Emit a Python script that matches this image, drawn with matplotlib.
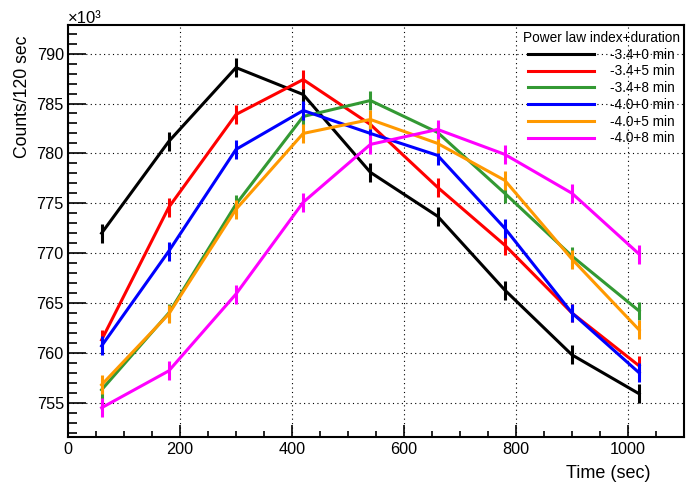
import matplotlib
matplotlib.use("Agg")
import matplotlib.pyplot as plt
from matplotlib.ticker import MultipleLocator

# time bin centres (sec) and counts (x10^3) per 120 sec
times = [60, 180, 300, 420, 540, 660, 780, 900, 1020]

counts_34_0 = [772.0, 781.2, 788.6, 785.9, 778.1, 773.7, 766.3, 759.8, 755.9]
counts_34_5 = [761.3, 774.6, 783.9, 787.4, 782.9, 776.6, 770.8, 764.0, 758.7]
counts_34_8 = [756.3, 764.0, 774.9, 783.7, 785.3, 782.1, 776.0, 769.7, 764.2]
counts_40_0 = [760.7, 770.2, 780.4, 784.3, 782.0, 779.8, 772.5, 764.0, 758.0]
counts_40_5 = [756.8, 763.9, 774.4, 782.0, 783.4, 781.0, 777.3, 769.4, 762.3]
counts_40_8 = [754.5, 758.2, 765.9, 775.1, 780.9, 782.4, 779.9, 776.0, 769.9]

count_err = 0.95

labels = ["-3.4+0 min", "-3.4+5 min", "-3.4+8 min",
          "-4.0+0 min", "-4.0+5 min", "-4.0+8 min"]
colors = ["#000000", "#ff0000", "#339933", "#0000ff", "#ff9900", "#ff00ff"]
series = [counts_34_0, counts_34_5, counts_34_8,
          counts_40_0, counts_40_5, counts_40_8]

plt.rcParams["font.family"] = ["Liberation Sans", "DejaVu Sans"]

W, H = 686, 487
fig = plt.figure(figsize=(W / 100, H / 100), dpi=100)
ax = fig.add_axes([68 / W, 1 - 436.7 / H, (684 - 68) / W, (436.7 - 24.7) / H])

for y, c, lab in zip(series, colors, labels):
    ax.plot(times, y, color=c, lw=2.2, label=lab)
    ax.errorbar(times, y, yerr=count_err, color=c, lw=0, elinewidth=2.2,
                capsize=0, fmt="none")

ax.set_xlim(0, 1100)
ax.set_ylim(751.6, 792.9)

ax.xaxis.set_major_locator(MultipleLocator(200))
ax.xaxis.set_minor_locator(MultipleLocator(50))
ax.yaxis.set_major_locator(MultipleLocator(5))
ax.yaxis.set_minor_locator(MultipleLocator(1))

ax.tick_params(axis="both", which="both", direction="in", top=False, right=False,
               labelsize=11.7, width=1.2)
ax.tick_params(axis="y", which="major", length=13.3, pad=3)
ax.tick_params(axis="y", which="minor", length=6.6)
ax.tick_params(axis="x", which="major", length=9, pad=4)
ax.tick_params(axis="x", which="minor", length=4.5)

for sp in ax.spines.values():
    sp.set_linewidth(1.5)

ax.grid(True, which="major", color="black", linestyle=(0, (1, 3)), lw=0.8)

fig.text(23 / W, 1 - 35 / H, "Counts/120 sec", rotation=90, ha="center",
         va="top", fontsize=12.7)
fig.text(650 / W, 1 - 473 / H, "Time (sec)", ha="right", va="center",
         fontsize=13)
fig.text(68 / W, 1 - 23 / H, "×10³", ha="left", va="baseline", fontsize=12)

leg = ax.legend(title="Power law index+duration", loc="upper right",
                bbox_to_anchor=(680 / W, 1 - 31 / H),
                bbox_transform=fig.transFigure, frameon=False,
                fontsize=9.8, title_fontsize=9.8, handlelength=4.8,
                handletextpad=1.2, labelspacing=0.2, borderpad=0,
                borderaxespad=0)

fig.savefig("out.png", dpi=100)
